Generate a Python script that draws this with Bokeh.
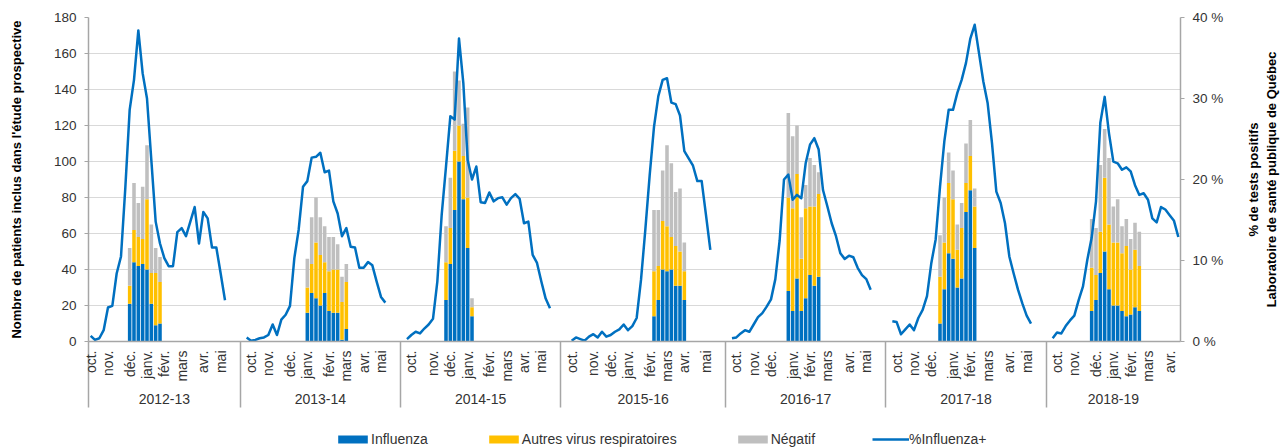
import math
from bokeh.plotting import figure
from bokeh.layouts import column, row
from bokeh.core.properties import value
from bokeh.models import Range1d, LinearAxis, FixedTicker, ColumnDataSource, Legend, LegendItem
from bokeh.embed import file_html
from bokeh.resources import INLINE

# ---------------- data ----------------
seasons = ["2012-13", "2013-14", "2014-15", "2015-16", "2016-17", "2017-18", "2018-19"]
season_weeks = [35, 37, 37, 38, 37, 37, 31]          # number of weekly categories per season
month_names = ["oct.", "nov.", "déc.", "janv.", "févr.", "mars", "avr.", "mai"]
# week (within season) carrying each month label
month_weeks = [
    [0, 4, 9, 13, 17, 21, 26, 30],
    [2, 6, 11, 15, 20, 24, 28, 32],
    [2, 7, 11, 15, 20, 24, 28, 32],
    [2, 7, 11, 15, 20, 24, 28, 33],
    [2, 6, 10, 15, 19, 23, 28, 32],
    [2, 6, 10, 15, 19, 23, 28, 32],
    [2, 6, 11, 15, 19, 23, 28],
]

# % Influenza+ (LSPQ), first week of the series within each season
pct_first_week = [0, 1, 1, 2, 1, 1, 1]
pct_influenza = [
    [0.7, 0.2, 0.4, 1.4, 4.2, 4.4, 8.4, 10.5, 19.0, 28.6, 32.3, 38.4, 33.1, 30.0, 22.4, 14.8,
     12.1, 10.3, 9.3, 9.3, 13.5, 14.0, 13.0, 14.8, 16.6, 12.1, 16.0, 15.2, 11.6, 11.6, 8.4, 5.1],
    [0.5, 0.1, 0.2, 0.4, 0.5, 0.8, 2.1, 0.8, 2.7, 3.3, 4.4, 10.3, 13.8, 19.1, 19.8, 22.7, 22.8,
     23.3, 20.9, 21.1, 17.3, 15.8, 13.0, 14.0, 11.7, 11.6, 9.1, 9.1, 9.8, 9.4, 7.4, 5.5, 4.8],
    [0.3, 0.8, 1.2, 1.0, 1.6, 2.1, 2.8, 7.4, 15.6, 21.6, 27.8, 27.4, 37.4, 31.9, 22.4, 20.0, 21.6,
     17.2, 17.1, 18.4, 17.3, 17.7, 17.8, 16.9, 17.7, 18.2, 17.6, 14.6, 14.8, 10.7, 9.7, 7.4, 5.3, 4.1],
    [0.1, 0.5, 0.3, 0.1, 0.6, 0.9, 0.5, 1.2, 0.6, 0.8, 1.2, 1.5, 2.1, 1.4, 1.9, 2.9, 7.6, 13.8,
     20.5, 26.5, 30.3, 32.3, 32.5, 29.5, 29.3, 27.9, 23.5, 22.6, 21.7, 19.8, 19.8, 15.6, 11.3],
    [0.4, 0.5, 1.0, 1.4, 1.2, 2.1, 3.0, 3.5, 4.3, 5.2, 7.7, 12.5, 20.0, 20.6, 17.5, 18.1, 17.7,
     22.0, 24.3, 25.1, 23.7, 18.7, 16.7, 14.6, 13.0, 10.9, 10.2, 10.6, 10.4, 9.1, 8.2, 7.7, 6.4],
    [2.5, 2.4, 0.9, 1.5, 2.1, 1.4, 2.9, 3.9, 5.6, 9.7, 12.6, 19.1, 24.7, 28.6, 28.6, 30.7, 32.3,
     34.4, 37.4, 39.1, 35.6, 32.1, 29.4, 24.5, 18.5, 17.1, 14.6, 10.5, 8.4, 6.4, 4.7, 3.2, 2.2],
    [0.4, 1.1, 1.0, 1.9, 2.6, 3.2, 5.1, 6.8, 10.1, 12.8, 17.3, 27.0, 30.2, 25.7, 22.2, 22.0, 21.2,
     21.5, 21.0, 19.3, 18.1, 18.3, 17.5, 15.2, 14.7, 16.6, 16.3, 15.6, 14.9, 12.9],
]

# patients in the prospective study, first week of the bars within each season
bar_first_week = [9, 15, 10, 21, 14, 12, 10]
influenza = [
    [21, 44, 42, 43, 40, 21, 9, 10],
    [16, 27, 24, 20, 27, 17, 16, 16, 1, 7],
    [23, 43, 73, 100, 79, 52, 14],
    [14, 23, 40, 39, 40, 31, 31, 23],
    [28, 17, 35, 17, 24, 37, 31, 36],
    [10, 29, 49, 46, 30, 35, 72, 84, 52],
    [17, 23, 38, 50, 29, 20, 20, 17, 14, 15, 19, 17],
]
autres_virus = [
    [10, 18, 16, 14, 39, 17, 29, 23],
    [14, 16, 31, 28, 17, 22, 24, 24, 21, 26],
    [21, 20, 33, 20, 24, 28, 5],
    [25, 19, 27, 25, 18, 22, 19, 16],
    [52, 57, 58, 29, 50, 38, 44, 46],
    [26, 26, 39, 33, 21, 28, 16, 19, 23],
    [24, 14, 23, 41, 36, 35, 35, 32, 39, 25, 32, 25],
]
negatif = [
    [21, 26, 19, 29, 30, 27, 14, 14],
    [16, 26, 25, 21, 20, 19, 18, 14, 14, 10],
    [20, 28, 44, 25, 18, 50, 5],
    [34, 31, 28, 45, 41, 30, 35, 16],
    [47, 40, 27, 23, 13, 27, 23, 12],
    [23, 25, 17, 16, 14, 14, 22, 20, 10],
    [27, 26, 37, 27, 37, 20, 24, 15, 15, 17, 15, 19],
]

left_ticks = [0, 20, 40, 60, 80, 100, 120, 140, 160, 180]
right_ticks = [0, 10, 20, 30, 40]
right_tick_labels = ["0 %", "10 %", "20 %", "30 %", "40 %"]
left_title = "Nombre de patients inclus dans l'étude prospective"
right_title_lines = ["% de tests positifs", "Laboratoire de santé publique de Québec"]
legend_labels = ["Influenza", "Autres virus respiratoires", "Négatif", "%Influenza+"]

# ---------------- derived positions ----------------
offsets = []
acc = 0
for n in season_weeks:
    offsets.append(acc)
    acc += n
total_weeks = acc

month_ticks, month_over = [], {}
for off, weeks in zip(offsets, month_weeks):
    for name, w in zip(month_names, weeks):
        month_ticks.append(off + w)
        month_over[off + w] = name
separators = [off - 0.5 for off in offsets]
season_centers = [off + (n - 1) / 2 for off, n in zip(offsets, season_weeks)]

bx, bf, ba, bn = [], [], [], []
for off, first, f, a, n in zip(offsets, bar_first_week, influenza, autres_virus, negatif):
    bx += [off + first + k for k in range(len(f))]
    bf += f
    ba += a
    bn += n
bar_src = ColumnDataSource(dict(x=bx, flu=bf, aut=ba, neg=bn))

FONT = "Liberation Sans"
AX = "#A6A6A6"
TXT = "#333333"
BLUE = "#0070C0"
YELLOW = "#FFC000"
GRAY = "#BFBFBF"

MAIN_W, TITLE_W = 1238, 48
MAIN_H, LEG_H = 411, 36
B_TOP, B_BOTTOM = 17, 70

p = figure(width=MAIN_W, height=MAIN_H, output_backend="svg", toolbar_location=None,
           x_range=Range1d(-0.5, total_weeks - 0.5), y_range=Range1d(0, 180),
           min_border_left=88, min_border_right=58, min_border_top=B_TOP, min_border_bottom=B_BOTTOM)
p.extra_y_ranges = {"pct": Range1d(0, 40)}
p.outline_line_color = None
p.xgrid.visible = False
p.ygrid.ticker = FixedTicker(ticks=left_ticks)
p.ygrid.grid_line_color = "#D9D9D9"
p.ygrid.grid_line_width = 1.2

# month axis (season separators drawn as long minor ticks)
SEP_LEN = 66
xa = p.xaxis[0]
xa.ticker = FixedTicker(ticks=month_ticks, minor_ticks=separators)
xa.major_label_overrides = month_over
xa.major_label_orientation = math.pi / 2
xa.major_tick_line_color = None
xa.major_tick_out = 0
xa.major_tick_in = 0
xa.minor_tick_out = SEP_LEN
xa.minor_tick_in = 0
xa.minor_tick_line_color = AX
xa.minor_tick_line_width = 1.5
xa.axis_line_color = AX
xa.axis_line_width = 1.5
xa.major_label_standoff = 9 - SEP_LEN
xa.major_label_text_font = FONT
xa.major_label_text_font_size = "14px"
xa.major_label_text_color = TXT

sa = LinearAxis(ticker=FixedTicker(ticks=season_centers),
                major_label_overrides={c: s for c, s in zip(season_centers, seasons)})
sa.axis_line_color = None
sa.major_tick_line_color = None
sa.minor_tick_line_color = None
sa.major_tick_out = 0
sa.major_tick_in = 0
sa.minor_tick_out = 0
sa.minor_tick_in = 0
sa.major_label_standoff = 9
sa.major_label_text_font = FONT
sa.major_label_text_font_size = "14px"
sa.major_label_text_color = TXT
p.add_layout(sa, "below")

ya = p.yaxis[0]
ya.ticker = FixedTicker(ticks=left_ticks)
ya.major_tick_out = 4
ya.major_tick_in = 0
ya.minor_tick_out = 0
ya.major_tick_line_color = AX
ya.minor_tick_line_color = None
ya.axis_line_color = AX
ya.axis_line_width = 1.5
ya.major_label_standoff = 8
ya.major_label_text_font = FONT
ya.major_label_text_font_size = "13.5px"
ya.major_label_text_color = TXT
ya.axis_label = left_title
ya.axis_label_text_font = FONT
ya.axis_label_text_font_size = "13px"
ya.axis_label_text_font_style = "bold"
ya.axis_label_text_color = "#000000"
ya.axis_label_standoff = 27

ra = LinearAxis(y_range_name="pct", ticker=FixedTicker(ticks=right_ticks),
                major_label_overrides={t: l for t, l in zip(right_ticks, right_tick_labels)})
ra.major_tick_out = 4
ra.major_tick_in = 0
ra.minor_tick_out = 0
ra.major_tick_line_color = AX
ra.minor_tick_line_color = None
ra.axis_line_color = AX
ra.axis_line_width = 1.5
ra.major_label_standoff = 8
ra.major_label_text_font = FONT
ra.major_label_text_font_size = "13.5px"
ra.major_label_text_color = TXT
p.add_layout(ra, "right")

bars = p.vbar_stack(["flu", "aut", "neg"], x="x", width=0.82, source=bar_src,
                    fill_color=[BLUE, YELLOW, GRAY], line_color=None)

for off, first, vals in zip(offsets, pct_first_week, pct_influenza):
    xs = [off + first + k for k in range(len(vals))]
    p.line(xs, vals, y_range_name="pct", line_color=BLUE, line_width=2.5, line_join="round")

# ---------------- right-hand title strip (text reading bottom to top) ----------------
tf = figure(width=TITLE_W, height=MAIN_H, output_backend="svg", toolbar_location=None,
            x_range=Range1d(0, TITLE_W), y_range=Range1d(0, 180),
            x_axis_location=None, y_axis_location=None,
            min_border_left=0, min_border_right=0, min_border_top=B_TOP, min_border_bottom=B_BOTTOM)
tf.outline_line_color = None
for g in tf.grid:
    g.visible = False
tf.text(x=[15, 32.5], y=[90, 90], text=right_title_lines, angle=math.pi / 2,
        text_align="center", text_baseline="middle", text_font=value(FONT),
        text_font_size="13px", text_font_style="bold", text_color="#000000")

# ---------------- legend strip ----------------
lf = figure(width=MAIN_W, height=LEG_H, output_backend="svg", toolbar_location=None,
            x_range=Range1d(0, 1), y_range=Range1d(0, 1),
            x_axis_location=None, y_axis_location=None,
            min_border_left=0, min_border_right=0, min_border_top=0, min_border_bottom=0)
lf.outline_line_color = None
for g in lf.grid:
    g.visible = False
dummy = ColumnDataSource(dict(x=[-10, -9], y=[0, 0]))
lr = [lf.vbar(x="x", top="y", width=1, source=dummy, fill_color=c, line_color=None)
      for c in (BLUE, YELLOW, GRAY)]
lr.append(lf.line(x="x", y="y", source=dummy, line_color=BLUE, line_width=2.5))
legend = Legend(items=[LegendItem(label=l, renderers=[r]) for l, r in zip(legend_labels, lr)],
                orientation="horizontal", location=(246, 0))
legend.margin = 0
legend.padding = 0
legend.spacing = 57
legend.glyph_width = 37
legend.glyph_height = 10
legend.label_standoff = 0
legend.label_height = 14
legend.label_text_font = FONT
legend.label_text_font_size = "14px"
legend.label_text_color = TXT
legend.border_line_color = None
legend.background_fill_alpha = 0
lf.add_layout(legend)

layout = row(column(p, lf, spacing=0), tf, spacing=0)
open("out.html", "w").write(file_html(layout, INLINE))
